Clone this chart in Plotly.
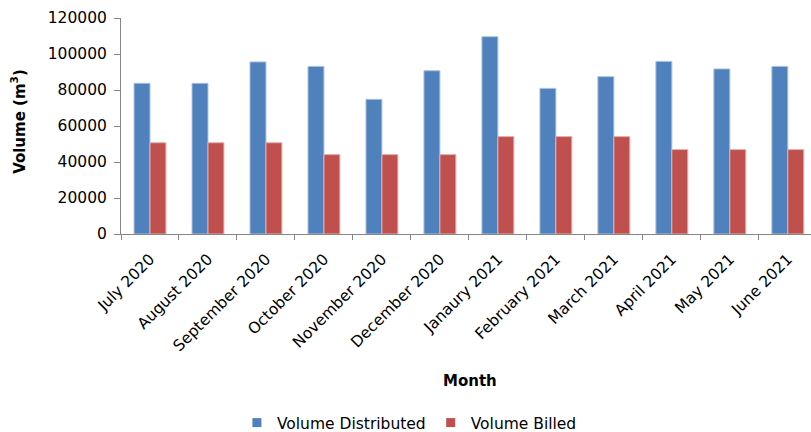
import plotly.graph_objects as go

months = ["July 2020", "August 2020", "September 2020", "October 2020", "November 2020",
          "December 2020", "Janaury 2021", "February 2021", "March 2021", "April 2021",
          "May 2021", "June 2021"]
volume_distributed = [83700, 83700, 95600, 93100, 74800, 90700, 109600, 80900, 87400, 95900, 91700, 93100]
volume_billed = [50700, 50700, 50700, 44100, 44100, 44100, 54100, 54100, 54100, 46900, 46900, 46900]
series_names = ["Volume Distributed", "Volume Billed"]
series_colors = ["#4F81BD", "#C0504D"]

FONT = "DejaVu Sans"

fig = go.Figure()
fig.add_trace(go.Bar(x=months, y=volume_distributed, name=series_names[0], showlegend=False,
                     marker=dict(color=series_colors[0], line=dict(color="#A9C0DE", width=1))))
fig.add_trace(go.Bar(x=months, y=volume_billed, name=series_names[1], showlegend=False,
                     marker=dict(color=series_colors[1], line=dict(color="#E3B0AE", width=1))))
# legend entries with small square swatches
for nm, col in zip(series_names, series_colors):
    fig.add_trace(go.Scatter(x=[None], y=[None], mode="markers", name=nm,
                             marker=dict(symbol="square", size=9, color=col)))

fig.update_layout(
    width=811, height=432,
    margin=dict(l=121, r=0, t=18, b=198, autoexpand=False),
    paper_bgcolor="white", plot_bgcolor="white",
    barmode="group", bargap=0.45, bargroupgap=0,
    font=dict(family=FONT, size=15, color="#000000"),
    showlegend=True,
    legend=dict(orientation="h", x=0.418, xanchor="center", y=-0.875, yanchor="middle",
                font=dict(family=FONT, size=15.5), itemwidth=30, tracegroupgap=0,
                bgcolor="rgba(0,0,0,0)"),
    xaxis=dict(range=[-0.5, 11.4], showgrid=False, showline=True, linecolor="#868686",
               linewidth=1, ticks="outside", tickson="boundaries", ticklen=5,
               tickcolor="#868686", tickangle=-45, tickfont=dict(family=FONT, size=15.5),
               automargin=False, ticklabelstandoff=9),
    yaxis=dict(range=[0, 120000], dtick=20000, showgrid=False, showline=True,
               linecolor="#868686", linewidth=1, ticks="outside", ticklen=6,
               tickcolor="#868686", tickformat="d", tickfont=dict(family=FONT, size=15.5),
               zeroline=False, automargin=False, ticklabelstandoff=4),
    annotations=[
        dict(text="<b>Month</b>", x=0.506, y=-0.68, xref="paper", yref="paper",
             showarrow=False, font=dict(family=FONT, size=15), xanchor="center", yanchor="middle"),
        dict(text="<b>Volume (m<sup>3</sup>)</b>", x=-0.149, y=0.52, xref="paper", yref="paper",
             showarrow=False, textangle=-90, font=dict(family=FONT, size=15),
             xanchor="center", yanchor="middle"),
    ],
)

fig.write_html("out.html")
